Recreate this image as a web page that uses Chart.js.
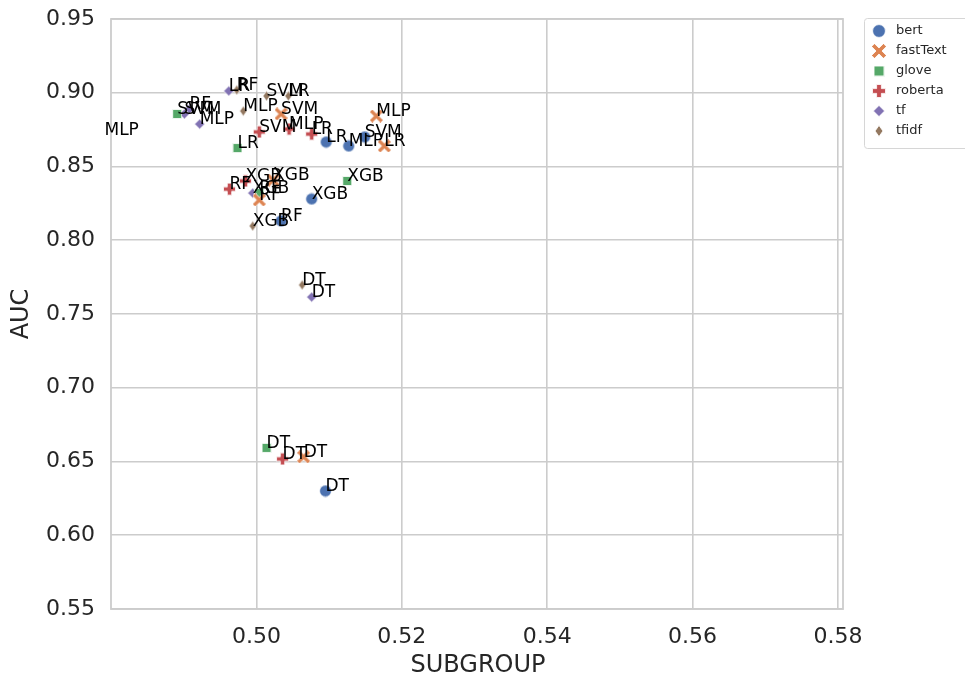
<!DOCTYPE html>
<html>
<head>
<meta charset="utf-8">
<script src="https://cdn.jsdelivr.net/npm/chart.js@4.4.1/dist/chart.umd.min.js"></script>
<style>
  html, body { margin: 0; padding: 0; background: #fff; }
  #wrap { width: 965px; height: 680px; }
</style>
</head>
<body>
<div id="wrap"><canvas id="aucChart"></canvas></div>
<script>
// models in the order they are listed for each embedding
const models = ["LR", "MLP", "SVM", "XGB", "RF", "DT"];
const seriesNames = ["bert", "fastText", "glove", "roberta", "tf", "tfidf"];
const xTicks = [0.50, 0.52, 0.54, 0.56, 0.58];
const yTicks = [0.55, 0.60, 0.65, 0.70, 0.75, 0.80, 0.85, 0.90, 0.95];

const bertSub = [0.5096, 0.5127, 0.5149, 0.5076, 0.5034, 0.5095];
const bertAuc = [0.8666, 0.8639, 0.8700, 0.8280, 0.8131, 0.6300];
const fastTextSub = [0.5176, 0.5165, 0.5034, 0.5023, 0.5004, 0.5065];
const fastTextAuc = [0.8639, 0.8842, 0.8856, 0.8408, 0.8273, 0.6531];
const gloveSub = [0.4974, 0.4791, 0.4891, 0.5125, 0.5004, 0.5014];
const gloveAuc = [0.8625, 0.8714, 0.8856, 0.8402, 0.8320, 0.6592];
const robertaSub = [0.5076, 0.5045, 0.5004, 0.4985, 0.4963, 0.5036];
const robertaAuc = [0.8720, 0.8754, 0.8734, 0.8402, 0.8347, 0.6517];
const tfSub = [0.4962, 0.4922, 0.4901, 0.4995, 0.4908, 0.5076];
const tfAuc = [0.9012, 0.8788, 0.8856, 0.8320, 0.8890, 0.7615];
const tfidfSub = [0.5044, 0.4982, 0.5014, 0.4995, 0.4973, 0.5063];
const tfidfAuc = [0.8978, 0.8876, 0.8978, 0.8097, 0.9019, 0.7697];

const subs = [bertSub, fastTextSub, gloveSub, robertaSub, tfSub, tfidfSub];
const aucs = [bertAuc, fastTextAuc, gloveAuc, robertaAuc, tfAuc, tfidfAuc];

const palette = ["#4c72b0", "#dd8452", "#55a868", "#c44e52", "#8172b3", "#937860"];
const shapes = ["circle", "x", "square", "plus", "diamond", "thin"];
const pointSizes = [13, 13, 10, 13, 11, 11];
const legendSizes = [14, 14, 11, 14, 12, 12];
const FONT = "'DejaVu Sans', sans-serif";
const INK = "#262626";

function makeMarker(kind, color, s) {
  const c = document.createElement("canvas");
  c.width = s; c.height = s;
  const g = c.getContext("2d");
  const m = s / 2;
  g.fillStyle = color;
  g.strokeStyle = "#ffffff";
  g.lineWidth = 0.8;
  g.beginPath();
  if (kind === "circle") {
    g.arc(m, m, m - 0.6, 0, Math.PI * 2);
  } else if (kind === "square") {
    g.rect(0.5, 0.5, s - 1, s - 1);
  } else if (kind === "diamond") {
    g.moveTo(m, 0.4); g.lineTo(s - 0.4, m); g.lineTo(m, s - 0.4); g.lineTo(0.4, m);
    g.closePath();
  } else if (kind === "thin") {
    const w = s * 0.33;
    g.moveTo(m, 0.4); g.lineTo(m + w, m); g.lineTo(m, s - 0.4); g.lineTo(m - w, m);
    g.closePath();
  } else {
    // plus / x : a filled cross, x is the same turned 45 degrees
    g.translate(m, m);
    let L = m - 0.5, t = s * 0.17;
    if (kind === "x") { g.rotate(Math.PI / 4); L = m * 1.2; t = s * 0.15; }
    g.moveTo(-t, -L); g.lineTo(t, -L); g.lineTo(t, -t); g.lineTo(L, -t); g.lineTo(L, t);
    g.lineTo(t, t); g.lineTo(t, L); g.lineTo(-t, L); g.lineTo(-t, t); g.lineTo(-L, t);
    g.lineTo(-L, -t); g.lineTo(-t, -t);
    g.closePath();
  }
  g.fill();
  g.stroke();
  return c;
}

const pointMarkers = shapes.map((k, i) => makeMarker(k, palette[i], pointSizes[i]));
const legendMarkers = shapes.map((k, i) => makeMarker(k, palette[i], legendSizes[i]));

const datasets = seriesNames.map((name, i) => ({
  label: name,
  data: subs[i].map((x, j) => ({ x: x, y: aucs[i][j] })),
  pointStyle: pointMarkers[i],
  pointRadius: 6,
  backgroundColor: palette[i],
  showLine: false,
}));

const framePlugin = {
  id: "frame",
  beforeDatasetsDraw(chart) {
    const { ctx, chartArea: a } = chart;
    ctx.save();
    ctx.strokeStyle = "#cccccc";
    ctx.lineWidth = 1.8;
    ctx.strokeRect(a.left, a.top, a.right - a.left, a.bottom - a.top);
    ctx.restore();
  },
};

const labelPlugin = {
  id: "pointLabels",
  afterDatasetsDraw(chart) {
    const ctx = chart.ctx;
    ctx.save();
    ctx.font = "17px " + FONT;
    ctx.fillStyle = "#000000";
    ctx.textAlign = "left";
    ctx.textBaseline = "alphabetic";
    chart.data.datasets.forEach((ds, i) => {
      chart.getDatasetMeta(i).data.forEach((pt, j) => {
        ctx.fillText(models[j], pt.x, pt.y);
      });
    });
    ctx.restore();
  },
};

const extrasPlugin = {
  id: "extras",
  afterDraw(chart) {
    const ctx = chart.ctx;
    ctx.save();
    // axis titles
    ctx.fillStyle = INK;
    ctx.font = "24px " + FONT;
    ctx.textAlign = "center";
    ctx.textBaseline = "middle";
    ctx.fillText("SUBGROUP", 478, 666);
    ctx.translate(22, 314);
    ctx.rotate(-Math.PI / 2);
    ctx.fillText("AUC", 0, 0);
    ctx.restore();

    // legend
    ctx.save();
    const lx = 864.5, ly = 18.5, lw = 112, lh = 130, r = 3;
    ctx.beginPath();
    ctx.moveTo(lx + r, ly);
    ctx.lineTo(lx + lw - r, ly);
    ctx.arcTo(lx + lw, ly, lx + lw, ly + r, r);
    ctx.lineTo(lx + lw, ly + lh - r);
    ctx.arcTo(lx + lw, ly + lh, lx + lw - r, ly + lh, r);
    ctx.lineTo(lx + r, ly + lh);
    ctx.arcTo(lx, ly + lh, lx, ly + lh - r, r);
    ctx.lineTo(lx, ly + r);
    ctx.arcTo(lx, ly, lx + r, ly, r);
    ctx.closePath();
    ctx.fillStyle = "#ffffff";
    ctx.fill();
    ctx.strokeStyle = "#d6d6d6";
    ctx.lineWidth = 1;
    ctx.stroke();
    ctx.font = "13px " + FONT;
    ctx.fillStyle = INK;
    ctx.textAlign = "left";
    ctx.textBaseline = "middle";
    seriesNames.forEach((name, i) => {
      const cy = 31 + i * 20;
      const mk = legendMarkers[i];
      ctx.drawImage(mk, 879 - mk.width / 2, cy - mk.height / 2);
      ctx.fillText(name, 896, cy);
    });
    ctx.restore();
  },
};

new Chart(document.getElementById("aucChart"), {
  type: "scatter",
  data: { datasets: datasets },
  options: {
    responsive: true,
    maintainAspectRatio: false,
    animation: false,
    layout: { padding: { left: 0, top: 19, right: 122, bottom: 0 } },
    plugins: {
      legend: { display: false },
      tooltip: { enabled: false },
    },
    scales: {
      x: {
        type: "linear",
        min: 0.48,
        max: 0.5807,
        afterBuildTicks: (s) => { s.ticks = xTicks.map((v) => ({ value: v })); },
        afterFit: (s) => { s.height = 71; s.paddingLeft = 0; s.paddingRight = 0; },
        ticks: {
          autoSkip: false,
          maxRotation: 0,
          padding: 15,
          color: INK,
          font: { family: FONT, size: 22 },
          callback: (v) => Number(v).toFixed(2),
        },
        grid: { color: "#cccccc", lineWidth: 1.6, drawTicks: false },
        border: { display: false },
      },
      y: {
        type: "linear",
        min: 0.55,
        max: 0.95,
        afterBuildTicks: (s) => { s.ticks = yTicks.map((v) => ({ value: v })); },
        afterFit: (s) => { s.width = 111; s.paddingTop = 0; s.paddingBottom = 0; },
        ticks: {
          autoSkip: false,
          padding: 16,
          color: INK,
          font: { family: FONT, size: 22 },
          callback: (v) => Number(v).toFixed(2),
        },
        grid: { color: "#cccccc", lineWidth: 1.6, drawTicks: false },
        border: { display: false },
      },
    },
  },
  plugins: [framePlugin, labelPlugin, extrasPlugin],
});
</script>
</body>
</html>
